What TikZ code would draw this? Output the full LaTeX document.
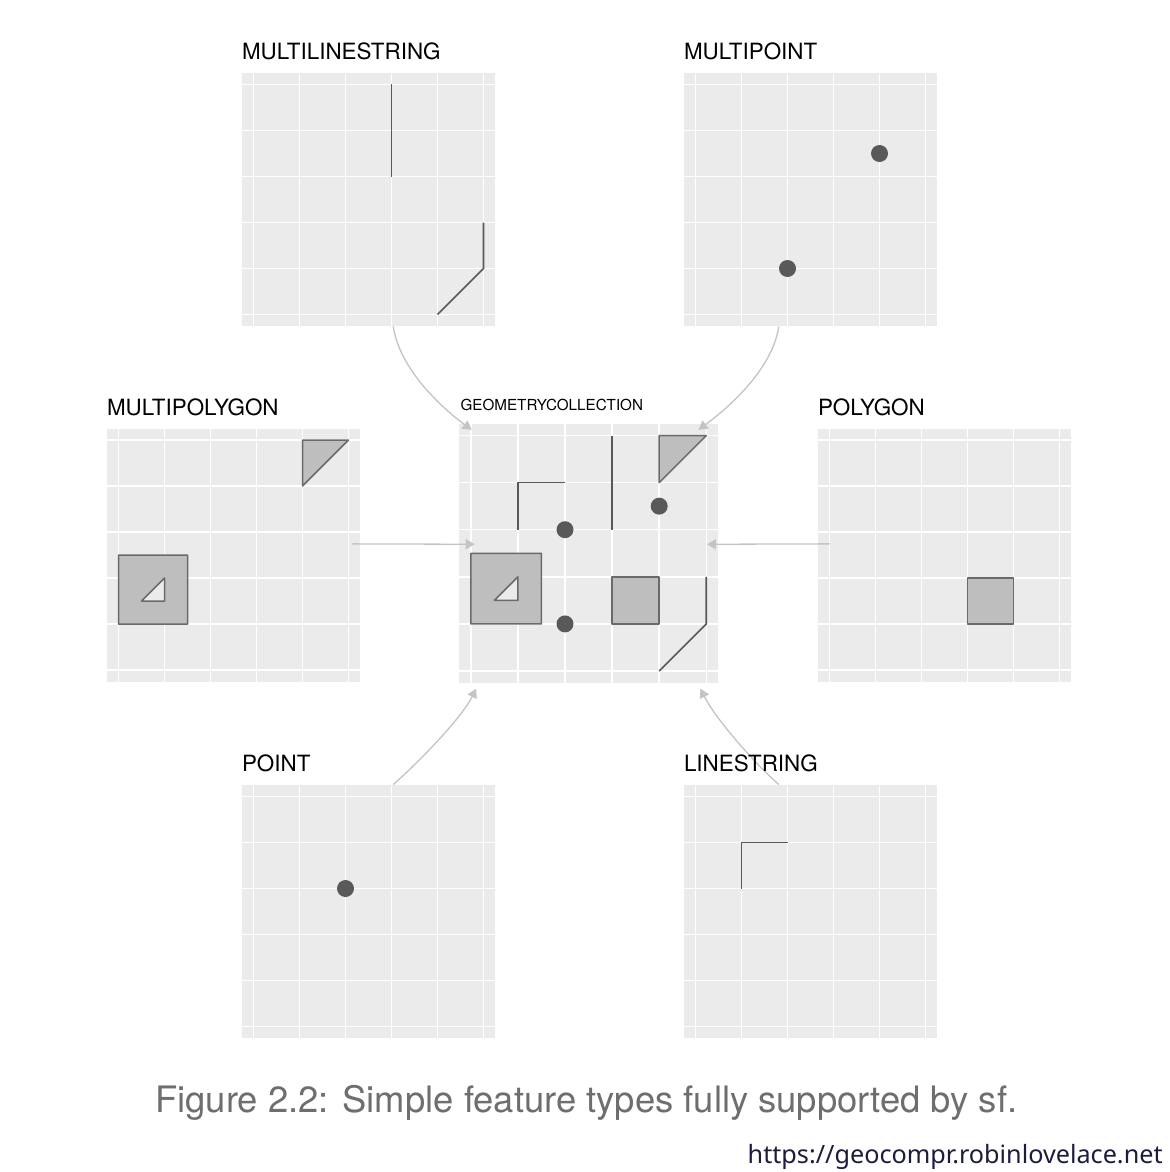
\documentclass[tikz,border=0pt]{standalone}
\usepackage{fontspec}
\setmainfont{TeX Gyre Heros}
\newfontfamily\urlfont{Noto Sans}
\usetikzlibrary{arrows.meta,positioning}

\definecolor{panelbg}{HTML}{EBEBEB}
\definecolor{geomdark}{HTML}{595959}
\definecolor{polyfill}{HTML}{BEBEBE}
\definecolor{linkgray}{HTML}{C4C4C4}
\definecolor{captiongray}{HTML}{6E6E6E}
\definecolor{urlnavy}{HTML}{1C1C3C}

% white grid of one panel, data units 0..5
\newcommand{\panelgrid}{%
  \foreach \k in {0,...,5} {
    \draw[gridline] (\k,-0.25) -- (\k,5.25);
    \draw[gridline] (-0.25,\k) -- (5.25,\k);
  }}

\begin{document}
\begin{tikzpicture}[x=0.5pt, y=-0.5pt,
  panel/.style={fill=panelbg, inner sep=0pt, minimum size=126.5pt},
  gridline/.style={white, line width=0.75pt},
  paneltitle/.style={inner sep=0pt, font=\fontsize{11.2}{13}\selectfont},
  geomline/.style={geomdark, line width=0.85pt},
  poly/.style={fill=polyfill, draw=geomdark!90, line width=0.75pt, line join=round},
  dot/.style={fill=geomdark},
  link/.style={linkgray, line width=0.65pt, -{Triangle[length=4.5pt,width=5pt]}}]
\fill[white] (0,0) rectangle (1170,1172);
\useasboundingbox (0,0) rectangle (1170,1172);

% Panels
\begin{scope}[shift={(253.5,314.5)}, x=23pt, y=23pt]
  \node[panel] (mls) at (2.5,2.5) {};
  \panelgrid
  \draw[geomline] (3,5) -- (3,3);
  \draw[geomline] (4,0) -- (5,1) -- (5,2);
\end{scope}

\begin{scope}[shift={(695.5,314.5)}, x=23pt, y=23pt]
  \node[panel] (mp) at (2.5,2.5) {};
  \panelgrid
  \fill[dot] (4,3.5) circle[radius=4.25pt];
  \fill[dot] (2,1) circle[radius=4.25pt];
\end{scope}

\begin{scope}[shift={(118.5,670)}, x=23pt, y=23pt]
  \node[panel] (mpg) at (2.5,2.5) {};
  \panelgrid
  \filldraw[poly] (4,5) -- (5,5) -- (4,4) -- cycle;
  \filldraw[poly, even odd rule] (0,1) rectangle (1.5,2.5) (0.5,1.5) -- (1,1.5) -- (1,2) -- cycle;
\end{scope}

\begin{scope}[shift={(470.8,671)}, x=23.55pt, y=23.55pt]
  \node[panel, minimum size=129.5pt] (gc) at (2.5,2.5) {};
  \panelgrid
  \filldraw[poly] (4,5) -- (5,5) -- (4,4) -- cycle;
  \filldraw[poly, even odd rule] (0,1) rectangle (1.5,2.5) (0.5,1.5) -- (1,1.5) -- (1,2) -- cycle;
  \filldraw[poly] (3,1) rectangle (4,2);
  \draw[geomline] (3,5) -- (3,3);
  \draw[geomline] (4,0) -- (5,1) -- (5,2);
  \draw[geomline] (1,3) -- (1,4) -- (2,4);
  \fill[dot] (2,3) circle[radius=4.25pt];
  \fill[dot] (4,3.5) circle[radius=4.25pt];
  \fill[dot] (2,1) circle[radius=4.25pt];
\end{scope}

\begin{scope}[shift={(829.5,670)}, x=23pt, y=23pt]
  \node[panel] (pg) at (2.5,2.5) {};
  \panelgrid
  \filldraw[poly] (3,1) rectangle (4,2);
\end{scope}

\begin{scope}[shift={(253.5,1026.5)}, x=23pt, y=23pt]
  \node[panel] (pt) at (2.5,2.5) {};
  \panelgrid
  \fill[dot] (2,3) circle[radius=4.25pt];
\end{scope}

\begin{scope}[shift={(695.5,1026.5)}, x=23pt, y=23pt]
  \node[panel] (ls) at (2.5,2.5) {};
  \panelgrid
  \draw[geomline] (1,3) -- (1,4) -- (2,4);
\end{scope}

% Arrows
\coordinate (in-nw) at ([shift={(13,6.5)}]gc.north west);
\coordinate (in-ne) at ([shift={(-20,6.5)}]gc.north east);
\coordinate (in-w) at ([shift={(16,-9)}]gc.west);
\coordinate (in-e) at ([shift={(-11.5,-9)}]gc.east);
\coordinate (in-sw) at ([shift={(17.5,5.5)}]gc.south west);
\coordinate (in-se) at ([shift={(-18,5.5)}]gc.south east);

\draw[link] (mls.-79) .. controls +(7,45) and +(-27,-20) .. (in-nw);
\draw[link] (mp.-104) .. controls +(-7,45) and +(27,-20) .. (in-ne);
\draw[link, shorten <=-4pt] (mpg.5) -- (in-w);
\draw[link, shorten <=-6pt] (pg.175) -- (in-e);
\draw[link] (pt.79) .. controls +(25,-22) and +(-15,30) .. (in-sw);
\draw[link] (ls.104) .. controls +(-25,-22) and +(15,30) .. (in-se);

% Titles
\node[paneltitle, above right=6pt and 0pt of mls.north west] (mls-title) {MULTILINESTRING};
\node[paneltitle, above right=6pt and 0pt of mp.north west] (mp-title) {MULTIPOINT};
\node[paneltitle, above right=6pt and 0pt of mpg.north west] (mpg-title) {MULTIPOLYGON};
\node[paneltitle, font=\fontsize{7.6}{9}\selectfont, above right=6pt and 0.8pt of gc.north west] (gc-title) {GEOMETRYCOLLECTION};
\node[paneltitle, above right=6pt and 0pt of pg.north west] (pg-title) {POLYGON};
\node[paneltitle, above right=6pt and 0pt of pt.north west] (pt-title) {POINT};
\node[paneltitle, above right=6pt and 0pt of ls.north west] (ls-title) {LINESTRING};

% Caption
\node[anchor=base west, inner sep=0pt, text=captiongray, font=\fontsize{18.2}{22}\selectfont] (caption) at (155,1112) {Figure 2.2: Simple feature types fully supported by sf.};
\node[anchor=base east, inner sep=0pt, text=urlnavy, font=\urlfont\fontsize{12.6}{15}\selectfont] (url) at (1163,1163) {https://geocompr.robinlovelace.net};

\end{tikzpicture}
\end{document}
